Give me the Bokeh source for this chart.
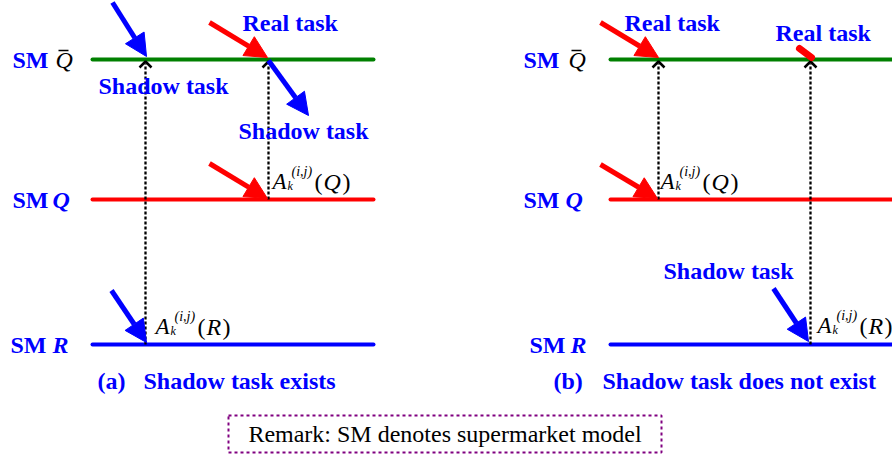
from bokeh.plotting import figure
from bokeh.models import Range1d, ColumnDataSource, Arrow, NormalHead
from bokeh.core.properties import value
from bokeh.embed import file_html
from bokeh.resources import INLINE

FONT = "Liberation Serif"
BLUE = "#0000FF"
RED = "#FF0000"
GREEN = "#008000"
PURPLE = "#800080"
BLACK = "#000000"

# ---- supermarket levels (two panels) ----
level_y = [59, 199, 344]
level_colors = [GREEN, RED, BLUE]
panel_x0 = [92, 610]
panel_x1 = [373, 892]

# SM labels: panel a (3 levels) then panel b (3 levels)
sm_x = [12, 12, 10, 523, 523, 529]
sm_y = [59, 199, 344, 59, 199, 344]
var_x = [55, 52, 52, 568, 565, 570]
var_text = ["Q", "Q", "R", "Q", "Q", "R"]
var_color = [BLACK, BLUE, BLUE, BLACK, BLUE, BLUE]
var_style = ["italic", "bold italic", "bold italic", "italic", "bold italic", "bold italic"]
bar_x = [58, 571]  # overbar of Q-bar

# drop (dotted) lines
drop_x = [145, 268, 658, 810]
drop_bottom = [344, 199, 199, 344]
drop_top = 61

# task arrows
arrow_x0 = [112, 209, 268, 209, 111, 600, 600, 773]
arrow_y0 = [2, 22, 60, 163, 290, 22, 164, 288]
arrow_x1 = [146, 267, 308, 267, 146, 658, 657, 808]
arrow_y1 = [56, 57, 115, 198, 342, 57, 198, 341]
arrow_col = [BLUE, RED, BLUE, RED, BLUE, RED, RED, BLUE]
stub_x = [799, 811]
stub_y = [48, 57]

# text annotations (bold blue)
txt = ["Real task", "Shadow task", "Shadow task", "Real task", "Real task", "Shadow task",
       "(a)", "Shadow task exists", "(b)", "Shadow task does not exist"]
txt_x = [242, 98, 238, 624, 775, 663, 97, 143, 553, 602]
txt_y = [22, 85, 130, 22, 32, 270, 380, 380, 380, 380]

# A_k^{(i,j)}(.) labels
a_x = [155, 272, 660, 817]
a_y = [326, 181, 181, 325]
a_var = ["R", "Q", "Q", "R"]
a_close = [67, 70, 70, 67]

remark = "Remark: SM denotes supermarket model"
box = dict(left=228, right=661, top=415, bottom=452)
remark_y = 433

p = figure(width=892, height=458, x_range=Range1d(0, 892), y_range=Range1d(458, 0),
           output_backend="svg", toolbar_location=None, min_border=0)
p.axis.visible = False
p.grid.visible = False
p.outline_line_color = None
p.background_fill_color = "white"

# level lines
xs, ys, cs = [], [], []
for pi in range(2):
    for li in range(3):
        xs.append([panel_x0[pi], panel_x1[pi]])
        ys.append([level_y[li], level_y[li]])
        cs.append(level_colors[li])
p.multi_line(xs=xs, ys=ys, line_color=cs, line_width=4, line_cap="round")

# dotted drop lines and carets
p.multi_line(xs=[[x, x] for x in drop_x], ys=[[b, drop_top + 2] for b in drop_bottom],
             line_color=BLACK, line_width=2.3, line_dash="3 2")
p.multi_line(xs=[[x - 6, x, x + 6] for x in drop_x],
             ys=[[drop_top + 6, drop_top, drop_top + 6] for _ in drop_x],
             line_color=BLACK, line_width=2.5)

# arrows
for i in range(len(arrow_x0)):
    p.add_layout(Arrow(x_start=arrow_x0[i], y_start=arrow_y0[i], x_end=arrow_x1[i], y_end=arrow_y1[i],
                       line_color=arrow_col[i], line_width=5,
                       end=NormalHead(size=22, fill_color=arrow_col[i], line_color=arrow_col[i], line_width=1)))
p.line(stub_x, stub_y, line_color=RED, line_width=7, line_cap="round")

# SM labels
p.text(x=sm_x, y=sm_y, text=["SM"] * 6, text_font=value(FONT), text_font_size="24px",
       text_font_style="bold", text_color=BLUE, text_baseline="middle", text_align="left")
src_var = ColumnDataSource(dict(x=var_x, y=sm_y, t=var_text, c=var_color, s=var_style))
p.text(x="x", y="y", text="t", text_color="c", text_font_style="s", source=src_var,
       text_font=value(FONT), text_font_size="24px", text_baseline="middle", text_align="left")
p.multi_line(xs=[[b, b + 10] for b in bar_x], ys=[[50, 50], [50, 50]], line_color=BLACK, line_width=1.3)

# task texts
p.text(x=txt_x, y=txt_y, text=txt, text_font=value(FONT), text_font_size="24px",
       text_font_style="bold", text_color=BLUE, text_baseline="alphabetic", text_align="left")

# A_k^{(i,j)} labels
p.text(x=a_x, y=a_y, text=["A"] * 4, text_font=value(FONT), text_font_size="23px",
       text_font_style="italic", text_color=BLACK, text_baseline="alphabetic")
p.text(x=[x + 19 for x in a_x], y=[y - 10 for y in a_y], text=["(i,j)"] * 4, text_font=value(FONT),
       text_font_size="14px", text_font_style="italic", text_color=BLACK, text_baseline="alphabetic")
p.text(x=[x + 15 for x in a_x], y=[y + 4 for y in a_y], text=["k"] * 4, text_font=value(FONT),
       text_font_size="12px", text_font_style="italic", text_color=BLACK, text_baseline="alphabetic")
p.text(x=[x + 42 for x in a_x], y=a_y, text=["("] * 4, text_font=value(FONT),
       text_font_size="24px", text_color=BLACK, text_baseline="alphabetic")
p.text(x=[x + 51 for x in a_x], y=a_y, text=a_var, text_font=value(FONT),
       text_font_size="24px", text_font_style="italic", text_color=BLACK, text_baseline="alphabetic")
p.text(x=[x + c for x, c in zip(a_x, a_close)], y=a_y, text=[")"] * 4, text_font=value(FONT),
       text_font_size="24px", text_color=BLACK, text_baseline="alphabetic")

# remark box
p.quad(left=[box["left"]], right=[box["right"]], top=[box["top"]], bottom=[box["bottom"]],
       fill_color=None, line_color=PURPLE, line_width=2, line_dash="3 3")
p.text(x=[(box["left"] + box["right"]) / 2], y=[remark_y], text=[remark], text_font=value(FONT),
       text_font_size="24px", text_color=BLACK, text_align="center", text_baseline="alphabetic")

open("out.html", "w").write(file_html(p, INLINE))
